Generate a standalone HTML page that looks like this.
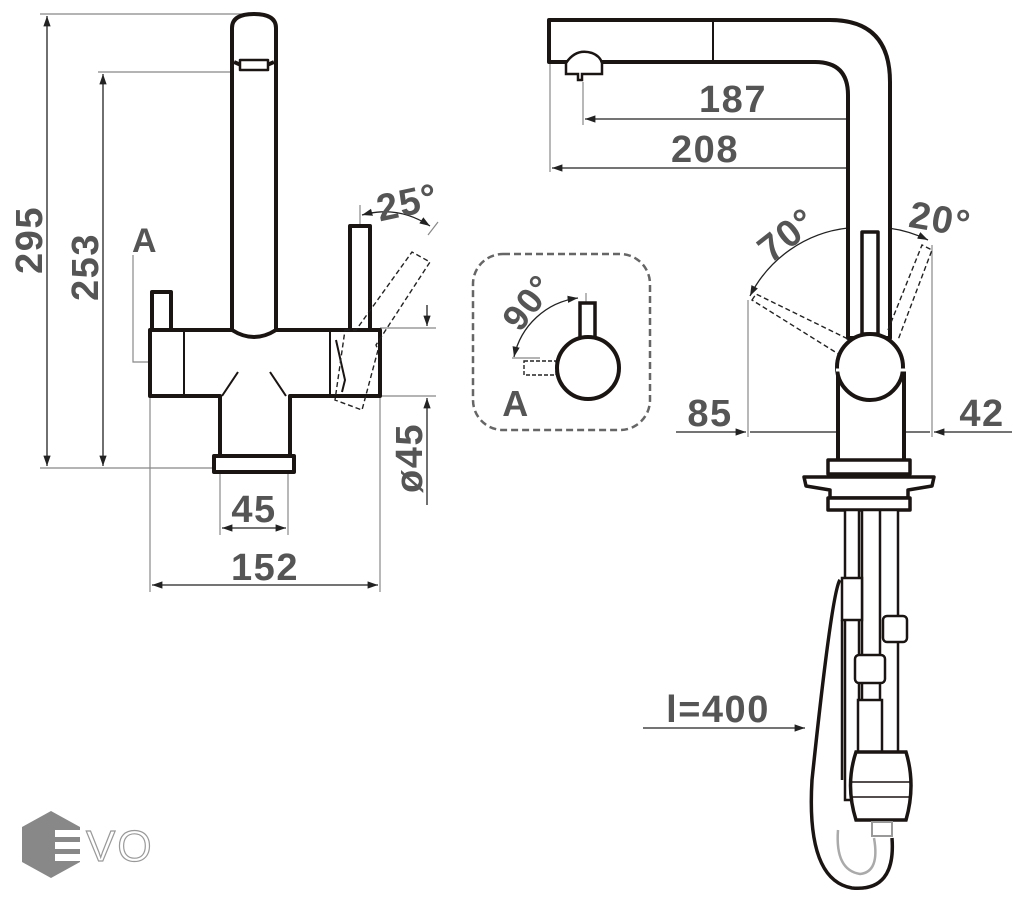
<!DOCTYPE html>
<html><head><meta charset="utf-8"><style>
html,body{margin:0;padding:0;background:#fff}
svg{display:block}
text{font-family:"Liberation Sans",sans-serif;font-weight:bold;fill:#555;letter-spacing:1.5px}
</style></head><body>
<svg width="1024" height="900" viewBox="0 0 1024 900" xmlns="http://www.w3.org/2000/svg">
<defs>
<marker id="ar" viewBox="0 0 10 10" refX="10" refY="5" markerWidth="8" markerHeight="8" orient="auto-start-reverse"><path d="M0,1.5 L10,5 L0,8.5z" fill="#222"/></marker>
</defs>
<g fill="none" stroke="#888" stroke-width="1.2">
<line x1="40" y1="14" x2="245" y2="14"/>
<line x1="98" y1="72" x2="238" y2="72"/>
<line x1="40" y1="468" x2="218" y2="468"/>
<line x1="220" y1="472" x2="220" y2="535"/>
<line x1="288" y1="472" x2="288" y2="535"/>
<line x1="150" y1="396" x2="150" y2="592"/>
<line x1="380" y1="396" x2="380" y2="592"/>
<line x1="380" y1="328" x2="436" y2="328"/>
<line x1="380" y1="396" x2="436" y2="396"/>
<polyline points="133,255 133,362 150,362"/>
<line x1="360" y1="225" x2="360" y2="205"/>
<line x1="428" y1="235" x2="438" y2="222"/>
<line x1="550" y1="62" x2="550" y2="172"/>
<line x1="583" y1="82" x2="583" y2="125"/>
<line x1="868" y1="112" x2="868" y2="172"/>
<line x1="748" y1="300" x2="748" y2="437"/>
<line x1="932" y1="245" x2="932" y2="437"/>
<line x1="870" y1="420" x2="870" y2="440"/>
<line x1="512" y1="358" x2="540" y2="358"/>
<line x1="586" y1="293" x2="586" y2="305"/>
</g>
<g fill="none" stroke="#222" stroke-width="1.3">
<line x1="47" y1="16" x2="47" y2="466" marker-start="url(#ar)" marker-end="url(#ar)"/>
<line x1="103" y1="74" x2="103" y2="466" marker-start="url(#ar)" marker-end="url(#ar)"/>
<line x1="222" y1="528" x2="286" y2="528" marker-start="url(#ar)" marker-end="url(#ar)"/>
<line x1="152" y1="585" x2="378" y2="585" marker-start="url(#ar)" marker-end="url(#ar)"/>
<line x1="427" y1="305" x2="427" y2="326" marker-end="url(#ar)"/>
<line x1="427" y1="505" x2="427" y2="398" marker-end="url(#ar)"/>
<path d="M362,215 Q398,205 430,226" marker-start="url(#ar)" marker-end="url(#ar)"/>
<line x1="585" y1="119" x2="866" y2="119" marker-start="url(#ar)" marker-end="url(#ar)"/>
<line x1="552" y1="168" x2="866" y2="168" marker-start="url(#ar)" marker-end="url(#ar)"/>
<path d="M750,296 A125,125 0 0 1 848,228" marker-start="url(#ar)"/>
<path d="M862,228 L868,228" marker-end="url(#ar)"/>
<path d="M888,228 A125,125 0 0 1 928,240" marker-end="url(#ar)"/>
<path d="M878,228 L872,228" marker-end="url(#ar)"/>
<line x1="676" y1="432" x2="746" y2="432" marker-end="url(#ar)"/>
<line x1="750" y1="432" x2="868" y2="432"/>
<line x1="1012" y1="432" x2="934" y2="432" marker-end="url(#ar)"/>
<line x1="872" y1="432" x2="930" y2="432"/>
<path d="M578,298 A75,75 0 0 0 514,357" marker-start="url(#ar)" marker-end="url(#ar)"/>
<line x1="643" y1="728" x2="805" y2="728" marker-end="url(#ar)"/>
</g>
<g fill="#fff" stroke="#1a1412" stroke-width="4" stroke-linejoin="round">
<path d="M232,330 V28 Q232,14 254,14 Q276,14 276,28 V330"/>
<path d="M234,62 Q254,72 274,62"/>
<rect x="240" y="60" width="28" height="10" stroke-width="2.5"/>
<rect x="152" y="292" width="19" height="38"/>
<rect x="350" y="226" width="20" height="104"/>
<path d="M150,330 H232 Q254,344 276,330 H380 V396 H290 V458 H220 V396 H150 Z"/>
<rect x="214" y="456" width="80" height="16"/>
</g>
<g fill="none" stroke="#1a1412" stroke-width="2">
<line x1="184" y1="330" x2="184" y2="396"/>
<line x1="330" y1="330" x2="330" y2="396"/>
<path d="M222,396 L238,372 M286,396 L270,372"/>
<path d="M336,340 L345,380 L342,392" />
</g>
<g fill="none" stroke="#222" stroke-width="1.4" stroke-dasharray="5,3">
<path d="M345,330 L356,330 L412,252 L430,262 L376,345 L378,350 L362,410 L335,400 Z" />
</g>
<rect x="473" y="254" width="177" height="176" rx="30" fill="none" stroke="#666" stroke-width="2.5" stroke-dasharray="7,4"/>
<rect x="524" y="361" width="32" height="14" fill="none" stroke="#222" stroke-width="1.4" stroke-dasharray="4,2"/>
<rect x="580" y="303" width="15" height="36" fill="#fff" stroke="#1a1412" stroke-width="3.5"/>
<circle cx="588" cy="368" r="31" fill="#fff" stroke="#1a1412" stroke-width="4"/>
<g fill="#fff" stroke="#1a1412" stroke-width="4" stroke-linejoin="round">
<path d="M549,20 H830 Q890,20 890,82 V338 H848 V95 Q848,62 815,62 H549 Z"/>
</g>
<line x1="713" y1="21" x2="713" y2="61" stroke="#1a1412" stroke-width="2"/>
<path d="M566,63 Q576,48 592,53 Q600,56 602,63 V74 H582 V80 H578 V74 H566 Z" fill="#fff" stroke="#1a1412" stroke-width="2.5"/>
<g fill="none" stroke="#222" stroke-width="1.4" stroke-dasharray="5,3">
<path d="M752,300 L756,294 L850,340 L840,355 Z"/>
<path d="M888,330 L922,245 L932,250 L898,340"/>
</g>
<g fill="#fff" stroke="#1a1412" stroke-width="3.5" stroke-linejoin="round">
<rect x="862" y="232" width="16" height="102"/>
<rect x="838" y="370" width="66" height="92" stroke-width="4"/>
<circle cx="870" cy="367" r="33" stroke-width="4"/>
<rect x="828" y="460" width="82" height="14"/>
<path d="M804,477 H934 L932,486 L908,490 V498 H830 V490 L806,486 Z"/>
<rect x="828" y="498" width="82" height="12"/>
</g>
<line x1="836" y1="370" x2="906" y2="370" stroke="#fff" stroke-width="3"/>
<g fill="#fff" stroke="#1a1412" stroke-width="3">
<path d="M840,580 Q832,590 812,780 Q806,880 852,888 Q896,892 892,838" fill="none" stroke-width="3.5"/>
<path d="M842,620 L842,780" fill="none" stroke-width="2.5"/>
<rect x="845" y="510" width="14" height="290" stroke-width="2.5"/>
<rect x="862" y="510" width="20" height="260" stroke-width="2.5"/>
<rect x="880" y="510" width="18" height="270" stroke-width="2.5"/>
<rect x="842" y="578" width="20" height="42" stroke-width="2.5"/>
<rect x="883" y="616" width="24" height="26" rx="4" stroke-width="2.5"/>
<rect x="855" y="655" width="30" height="28" rx="4" stroke-width="2.5"/>
<rect x="858" y="700" width="24" height="60" stroke-width="2.5"/>
<path d="M856,752 H906 Q916,785 906,820 H856 Q845,785 856,752 Z" stroke-width="3.5"/>
<line x1="850" y1="782" x2="912" y2="782" stroke-width="1.5"/>
<line x1="852" y1="797" x2="910" y2="797" stroke-width="1.5"/>
<rect x="872" y="822" width="20" height="14" stroke="#999" stroke-width="2"/>
</g>
<path d="M838,830 Q835,870 860,874 Q880,872 874,838" fill="none" stroke="#aaa" stroke-width="2.5"/>
<text x="0" y="0" font-size="38" transform="translate(42,240) rotate(-90)" text-anchor="middle">295</text>
<text x="0" y="0" font-size="38" transform="translate(98,267) rotate(-90)" text-anchor="middle">253</text>
<text x="145" y="252" font-size="34" text-anchor="middle">A</text>
<text x="254" y="522" font-size="38" text-anchor="middle">45</text>
<text x="265" y="580" font-size="38" text-anchor="middle">152</text>
<text x="0" y="0" font-size="38" transform="translate(422,458) rotate(-90)" text-anchor="middle">ø45</text>
<text x="0" y="0" font-size="38" transform="translate(410,215) rotate(-12)" text-anchor="middle">25°</text>
<text x="0" y="0" font-size="36" transform="translate(538,310) rotate(-52)" text-anchor="middle">90°</text>
<text x="516" y="416" font-size="36" text-anchor="middle">A</text>
<text x="733" y="112" font-size="38" text-anchor="middle">187</text>
<text x="705" y="162" font-size="38" text-anchor="middle">208</text>
<text x="0" y="0" font-size="38" transform="translate(795,245) rotate(-38)" text-anchor="middle">70°</text>
<text x="0" y="0" font-size="38" transform="translate(938,232) rotate(10)" text-anchor="middle">20°</text>
<text x="710" y="426" font-size="38" text-anchor="middle">85</text>
<text x="982" y="426" font-size="38" text-anchor="middle">42</text>
<text x="718" y="722" font-size="38" text-anchor="middle">l=400</text>
<polygon points="51,811 80,827 80,862 51,878 22,862 22,827" fill="#888"/>
<g fill="#fff"><rect x="55" y="830" width="28" height="7"/><rect x="55" y="842" width="28" height="7"/><rect x="55" y="854" width="28" height="7"/></g>
<text x="86" y="861" font-size="44" style="fill:none;stroke:#999;stroke-width:1.2;font-weight:normal;letter-spacing:2px">VO</text>
</svg>
</body></html>
